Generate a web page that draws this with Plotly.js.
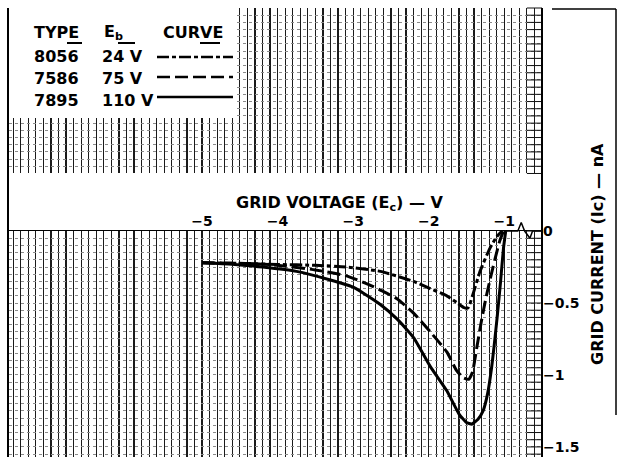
<!DOCTYPE html>
<html><head><meta charset="utf-8">
<script src="https://cdn.plot.ly/plotly-3.0.1.min.js"></script>
<style>html,body{margin:0;padding:0;background:#fff}#chart{width:618px;height:457px}</style>
</head><body><div id="chart"></div>
<script>
// ---- data ----
const tubeTypes = ['8056', '7586', '7895'];
const plateVolts = ['24 V', '75 V', '110 V'];

const v24 = [-5.0, -4.5, -4.0, -3.5, -3.08, -2.64, -2.2, -1.98, -1.76, -1.62, -1.54, -1.48, -1.42, -1.32, -1.19, -1.1, -1.03];
const i24 = [-0.22, -0.225, -0.232, -0.238, -0.25, -0.28, -0.35, -0.40, -0.45, -0.50, -0.53, -0.535, -0.45, -0.28, -0.12, -0.04, 0];

const v75 = [-5.0, -4.4, -4.0, -3.5, -3.1, -2.8, -2.64, -2.42, -2.2, -1.98, -1.76, -1.63, -1.54, -1.47, -1.42, -1.36, -1.30, -1.24, -1.18, -1.12, -1.06, -1.01];
const i75 = [-0.22, -0.225, -0.237, -0.27, -0.31, -0.37, -0.41, -0.47, -0.57, -0.70, -0.84, -0.97, -1.02, -1.03, -0.98, -0.80, -0.62, -0.46, -0.32, -0.19, -0.07, 0];

const v110 = [-5.0, -4.6, -4.2, -3.75, -3.3, -3.0, -2.64, -2.42, -2.2, -1.98, -1.76, -1.6, -1.5, -1.43, -1.35, -1.28, -1.22, -1.17, -1.13, -1.09, -1.05, -1.01, -0.98];
const i110 = [-0.22, -0.23, -0.25, -0.28, -0.34, -0.39, -0.51, -0.61, -0.74, -0.94, -1.11, -1.27, -1.33, -1.34, -1.31, -1.25, -1.13, -0.96, -0.78, -0.58, -0.36, -0.12, 0];

const tailV = [-1.0, -0.82, -0.775, -0.73, -0.66, -0.625, -0.5];
const tailI = [0, 0, 0.06, 0, -0.05, 0, 0];

const xTickVals = [-5, -4, -3, -2, -1];
const xTickText = ['−5', '−4', '−3', '−2', '−1'];
const yTickVals = [0, -0.5, -1, -1.5];
const yTickText = ['0', '−0.5', '−1', '−1.5'];

// ---- geometry / styling ----
const FONT = 'DejaVu Sans, Liberation Sans, sans-serif';
const dashes = ['12px,3px,4px,3px', '13px,5px', 'solid'];
const X_RANGE = [-7.555, -0.5];
const Y_MIN = -1.57, Y_MAX = 1.55, BAND_TOP = 0.40;
const yFrac = v => (v - Y_MIN) / (Y_MAX - Y_MIN);
const fZero = yFrac(0), fBand = yFrac(BAND_TOP);

const W = 618, H = 457, ML = 9, MR = 76, MT = 8, MB = 0;
const PW = W - ML - MR, PH = H - MT - MB;
const px = x => (x - ML) / PW;
const py = y => 1 - (y - MT) / PH;

const series = [[v24, i24], [v75, i75], [v110, i110]];
const traces = series.map((s, k) => ({
  type: 'scatter', mode: 'lines', x: s[0], y: s[1], xaxis: 'x4', yaxis: 'y4',
  name: tubeTypes[k] + ' ' + plateVolts[k],
  line: {color: '#000', width: 3, dash: dashes[k], shape: 'spline', smoothing: 0.5},
  showlegend: false, hoverinfo: 'skip'
}));
traces.push({type: 'scatter', mode: 'lines', x: tailV, y: tailI, xaxis: 'x4', yaxis: 'y4',
  line: {color: '#000', width: 1.5}, showlegend: false, hoverinfo: 'skip'});
// empty traces so every axis pair is drawn
traces.push({type: 'scatter', x: [], y: [], xaxis: 'x', yaxis: 'y', showlegend: false});
traces.push({type: 'scatter', x: [], y: [], xaxis: 'x3', yaxis: 'y3', showlegend: false});
traces.push({type: 'scatter', x: [], y: [], xaxis: 'x2', yaxis: 'y5', showlegend: false});

const shapes = [];
// white legend box (upper grid)
shapes.push({type: 'rect', xref: 'paper', yref: 'paper', x0: 0, x1: px(236), y0: py(118), y1: 1,
  fillcolor: '#fff', line: {width: 0}, layer: 'above'});
// dense right-hand grid
for (let k = -31; k <= 31; k++) {
  const yv = k * 0.05;
  if (yv > 0.001 && yv < BAND_TOP - 0.001) continue;
  shapes.push({type: 'line', xref: 'x4', yref: 'paper', x0: -0.7, x1: -0.5, y0: yFrac(yv), y1: yFrac(yv),
    line: {color: '#111', width: 1}, layer: 'above'});
}
// y axis line (full height) and frame lines
shapes.push({type: 'line', xref: 'paper', yref: 'paper', x0: 1, x1: 1, y0: 0, y1: 1, line: {color: '#000', width: 2}});
shapes.push({type: 'line', xref: 'paper', yref: 'paper', x0: px(8), x1: px(8), y0: 0, y1: 1, line: {color: '#000', width: 2}});
shapes.push({type: 'line', xref: 'paper', yref: 'paper', x0: px(552), x1: px(616), y0: py(9), y1: py(9), line: {color: '#000', width: 1.5}});
shapes.push({type: 'line', xref: 'paper', yref: 'paper', x0: px(616), x1: px(616), y0: py(9), y1: py(415), line: {color: '#000', width: 1.5}});
// legend samples and header underlines
const sampleY = [57, 77, 97];
tubeTypes.forEach((t, k) => {
  shapes.push({type: 'line', xref: 'paper', yref: 'paper', x0: px(157), x1: px(233), y0: py(sampleY[k]), y1: py(sampleY[k]),
    line: {color: '#000', width: 2.5, dash: dashes[k]}});
});
[[67, 82], [118, 135], [200, 220]].forEach(u => {
  shapes.push({type: 'line', xref: 'paper', yref: 'paper', x0: px(u[0]), x1: px(u[1]), y0: py(43), y1: py(43),
    line: {color: '#000', width: 2}});
});

const annotations = [];
const hdrFont = {family: FONT, size: 16, color: '#000', weight: 'bold'};
annotations.push({xref: 'paper', yref: 'paper', x: px(32), y: py(32), xanchor: 'left', yanchor: 'middle', text: 'TYPE', showarrow: false, font: hdrFont});
annotations.push({xref: 'paper', yref: 'paper', x: px(102), y: py(32), xanchor: 'left', yanchor: 'middle', text: 'E<sub>b</sub>', showarrow: false, font: hdrFont});
annotations.push({xref: 'paper', yref: 'paper', x: px(161), y: py(32), xanchor: 'left', yanchor: 'middle', text: 'CURVE', showarrow: false, font: hdrFont});
const rowY = [56.5, 78.5, 100];
tubeTypes.forEach((t, k) => {
  annotations.push({xref: 'paper', yref: 'paper', x: px(32), y: py(rowY[k]), xanchor: 'left', yanchor: 'middle', text: t, showarrow: false, font: hdrFont});
  annotations.push({xref: 'paper', yref: 'paper', x: px(100), y: py(rowY[k]), xanchor: 'left', yanchor: 'middle', text: plateVolts[k], showarrow: false, font: hdrFont});
});
annotations.push({xref: 'paper', yref: 'paper', x: px(340), y: py(203), xanchor: 'center', yanchor: 'middle',
  text: 'GRID VOLTAGE (E<sub>c</sub>) — V', showarrow: false, font: {family: FONT, size: 16, color: '#000', weight: 'bold'}});
annotations.push({xref: 'paper', yref: 'paper', x: px(597), y: py(254), xanchor: 'center', yanchor: 'middle', textangle: -90,
  text: 'GRID CURRENT (Ic) — nA', showarrow: false, font: {family: FONT, size: 16, color: '#000', weight: 'bold'}});

const gridX = {range: X_RANGE, dtick: 0.1, tick0: 0, showgrid: true, gridcolor: '#1a1a1a', gridwidth: 1.2,
  showticklabels: false, zeroline: false, showline: false, ticks: '', fixedrange: true};
const gridY = {dtick: 0.05, tick0: 0, showgrid: true, gridcolor: '#8a8a8a', gridwidth: 1, griddash: 'dot',
  showticklabels: false, zeroline: false, showline: false, ticks: ''};

const layout = {
  width: W, height: H,
  margin: {l: ML, r: MR, t: MT, b: MB, pad: 0},
  paper_bgcolor: '#fff', plot_bgcolor: 'rgba(0,0,0,0)',
  showlegend: false,
  // lower grid (below the zero line)
  xaxis: Object.assign({}, gridX, {anchor: 'y'}),
  yaxis: Object.assign({}, gridY, {range: [Y_MIN, 0], domain: [0, fZero], anchor: 'x'}),
  // upper grid (above the label band)
  xaxis3: Object.assign({}, gridX, {anchor: 'y3'}),
  yaxis3: Object.assign({}, gridY, {range: [BAND_TOP, Y_MAX], domain: [fBand, 1], anchor: 'x3'}),
  // x tick labels, on the zero line
  xaxis2: {range: X_RANGE, overlaying: 'x', anchor: 'y', side: 'top',
    tickvals: xTickVals, ticktext: xTickText, ticks: '', showgrid: false, zeroline: false,
    showline: true, linecolor: '#000', linewidth: 1.5, ticklabelstandoff: -2,
    tickfont: {family: FONT, size: 14, color: '#000', weight: 'bold'}},
  // y tick labels, on the right
  yaxis5: {range: [Y_MIN, 0], overlaying: 'y', side: 'right', anchor: 'x',
    tickvals: yTickVals, ticktext: yTickText, ticks: '', showgrid: false, zeroline: false,
    showline: false, ticklabelstandoff: 0,
    tickfont: {family: FONT, size: 14, color: '#000', weight: 'bold'}},
  // curves
  xaxis4: {range: X_RANGE, domain: [0, 1], anchor: 'y4', visible: false, showgrid: false, zeroline: false},
  yaxis4: {range: [Y_MIN, BAND_TOP], domain: [0, fBand], anchor: 'x4', visible: false, showgrid: false, zeroline: false},
  shapes: shapes,
  annotations: annotations
};

Plotly.newPlot('chart', traces, layout, {staticPlot: true, displayModeBar: false});
</script>
</body></html>
